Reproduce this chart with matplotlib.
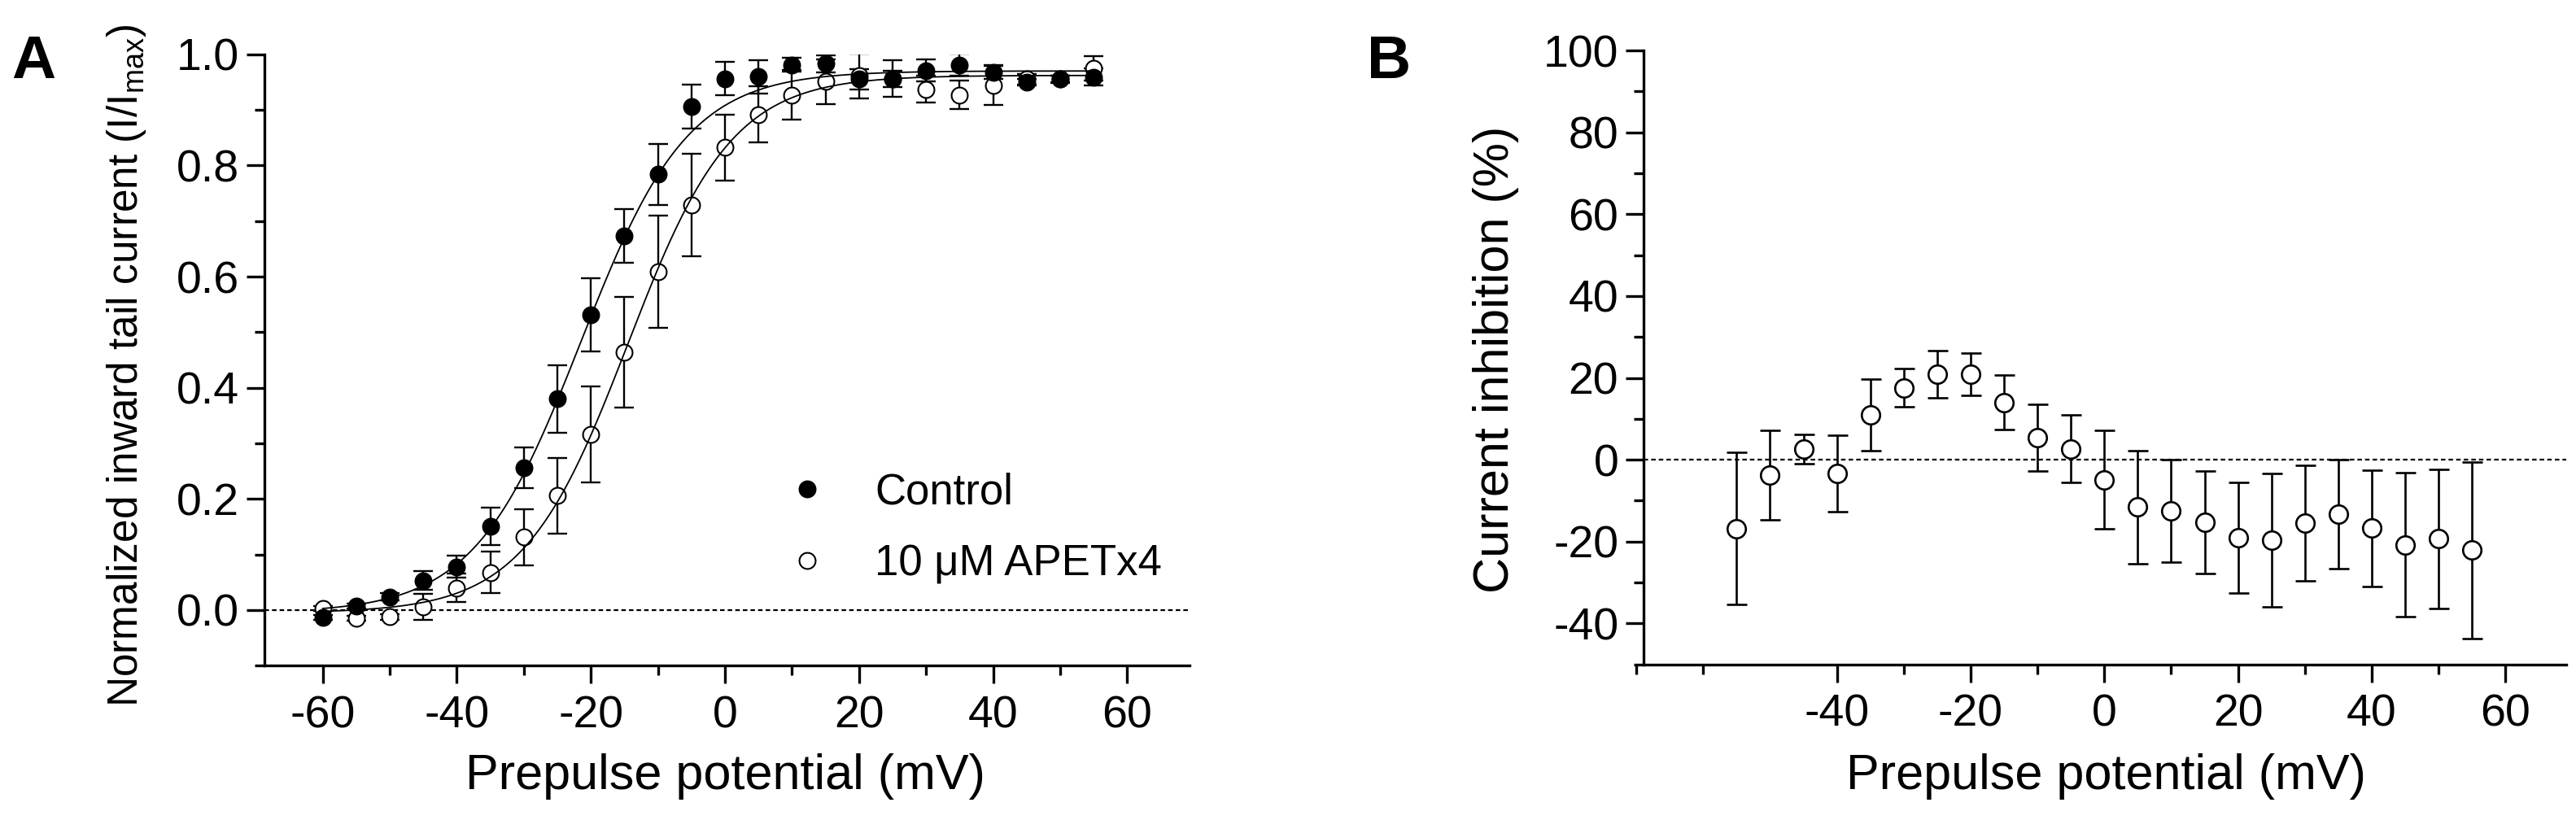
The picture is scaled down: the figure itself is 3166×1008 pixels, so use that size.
"""
Activation curves (panel A) and current inhibition (panel B)
redrawn from the published figure
"""

## Imports

import numpy as np
import matplotlib
matplotlib.use("Agg")
import matplotlib.pyplot as plt
from matplotlib.lines import Line2D
from matplotlib.ticker import FixedLocator, MultipleLocator, FormatStrFormatter

plt.rcParams['font.family'] = ['Liberation Sans', 'DejaVu Sans']
plt.rcParams['mathtext.default'] = 'regular'
plt.rcParams['axes.unicode_minus'] = False

## Data

# Panel A: normalized inward tail current vs prepulse potential
volt_a = [-60, -55, -50, -45, -40, -35, -30, -25, -20, -15, -10, -5,
          0, 5, 10, 15, 20, 25, 30, 35, 40, 45, 50, 55]
control_mean = [-0.013, 0.007, 0.024, 0.053, 0.078, 0.151, 0.256, 0.380,
                0.531, 0.673, 0.784, 0.906, 0.956, 0.960, 0.981, 0.983,
                0.955, 0.956, 0.971, 0.981, 0.968, 0.950, 0.956, 0.959]
control_sem = [0.004, 0.004, 0.006, 0.017, 0.020, 0.034, 0.037, 0.061,
               0.066, 0.048, 0.055, 0.040, 0.030, 0.030, 0.012, 0.015,
               0.018, 0.015, 0.020, 0.020, 0.012, 0.006, 0.006, 0.015]
apetx_mean = [0.003, -0.015, -0.012, 0.006, 0.040, 0.068, 0.131, 0.206,
              0.316, 0.464, 0.609, 0.729, 0.832, 0.892, 0.927, 0.951,
              0.961, 0.956, 0.937, 0.927, 0.944, 0.955, 0.955, 0.975]
apetx_sem = [0.004, 0.004, 0.005, 0.023, 0.026, 0.037, 0.050, 0.068,
             0.086, 0.100, 0.101, 0.092, 0.060, 0.050, 0.045, 0.040,
             0.040, 0.033, 0.024, 0.026, 0.035, 0.010, 0.006, 0.022]

# Boltzmann fits: bottom, top, V1/2 (mV), slope (mV)
fit_control = (-0.005, 0.970, -21.5, 8.0)
fit_apetx = (-0.005, 0.962, -14.5, 7.8)
fit_range = (-60, 55)

legend_labels = ['Control', '10 μM APETx4']

# Panel B: current inhibition vs prepulse potential
volt_b = [-55, -50, -45, -40, -35, -30, -25, -20, -15, -10, -5, 0,
          5, 10, 15, 20, 25, 30, 35, 40, 45, 50, 55]
inhib_mean = [-16.8, -3.7, 2.6, -3.3, 11.0, 17.6, 20.9, 20.9, 14.0, 5.4,
              2.7, -4.9, -11.6, -12.5, -15.3, -19.1, -19.6, -15.4, -13.3,
              -16.7, -20.8, -19.3, -22.1]
inhib_sem = [18.6, 10.9, 3.6, 9.3, 8.8, 4.7, 5.8, 5.2, 6.6, 8.1, 8.2, 12.0,
             13.9, 12.5, 12.5, 13.5, 16.3, 14.1, 13.3, 14.2, 17.6, 17.0, 21.6]

xticks_b_major = [-40, -20, 0, 20, 40, 60]
xticks_b_minor = [-70, -60, -30, -10, 10, 30, 50]


def boltzmann(v, bottom, top, v_half, slope):
    return bottom + (top - bottom) / (1. + np.exp((v_half - v) / slope))


def style_axes(ax):
    for side in ['top', 'right']:
        ax.spines[side].set_visible(False)
    for side in ['left', 'bottom']:
        ax.spines[side].set_linewidth(2.4)
    ax.tick_params(which='major', length=15.8, width=2.4, labelsize=40)
    ax.tick_params(which='minor', length=8.6, width=2.4)
    ax.tick_params(axis='y', which='both', pad=6.5)
    ax.tick_params(axis='x', which='both', pad=10)


dotted = (0, (2.5, 1.7))

fig = plt.figure(figsize=(31.66, 10.08), dpi=100)

## Panel A

ax_a = fig.add_axes([0.10265, 0.18819, 0.35913, 0.74563])
style_axes(ax_a)
ax_a.set_xlim(-68.7, 69.3)
ax_a.set_ylim(-0.1, 1.0)
ax_a.xaxis.set_major_locator(MultipleLocator(20))
ax_a.xaxis.set_minor_locator(MultipleLocator(10))
ax_a.yaxis.set_major_locator(MultipleLocator(0.2))
ax_a.yaxis.set_minor_locator(MultipleLocator(0.1))
ax_a.yaxis.set_major_formatter(FormatStrFormatter('%.1f'))

ax_a.axhline(0, color='black', lw=1.6, ls=dotted, zorder=1)

err_kw = dict(fmt='none', ecolor='black', elinewidth=1.7, capsize=8.7, capthick=1.7, zorder=2)
ax_a.errorbar(volt_a, apetx_mean, yerr=apetx_sem, **err_kw)
ax_a.errorbar(volt_a, control_mean, yerr=control_sem, **err_kw)
ax_a.plot(volt_a, apetx_mean, ls='none', marker='o', ms=14.3, mfc='white',
          mec='black', mew=1.5, zorder=3)
ax_a.plot(volt_a, control_mean, ls='none', marker='o', ms=14.3, mfc='black',
          mec='black', mew=1.5, zorder=3.5)

v_fit = np.linspace(fit_range[0], fit_range[1], 400)
ax_a.plot(v_fit, boltzmann(v_fit, *fit_control), color='black', lw=1.3, zorder=4)
ax_a.plot(v_fit, boltzmann(v_fit, *fit_apetx), color='black', lw=1.3, zorder=4)

handles = [Line2D([], [], ls='none', marker='o', ms=14.3, mfc='black', mec='black', mew=1.5),
           Line2D([], [], ls='none', marker='o', ms=14.3, mfc='white', mec='black', mew=1.5)]
ax_a.legend(handles, legend_labels, loc='center left', bbox_to_anchor=(9.0, 0.147),
            bbox_transform=ax_a.transData, frameon=False, fontsize=38,
            handlelength=1.0, handletextpad=1.08, labelspacing=0.71,
            borderpad=0, borderaxespad=0, numpoints=1)

ax_a.set_ylabel('Normalized inward tail current (I/I$_{max}$)', fontsize=37)
ax_a.yaxis.set_label_coords(-0.1258, 0.4913)
ax_a.set_xlabel('Prepulse potential (mV)', fontsize=44)
ax_a.xaxis.set_label_coords(0.498, -0.1433)

## Panel B

ax_b = fig.add_axes([0.63446, 0.18978, 0.36175, 0.74871])
style_axes(ax_b)
ax_b.set_xlim(-70.3, 69.1)
ax_b.set_ylim(-50, 100)
ax_b.spines['left'].set_position(('data', -68.9))
ax_b.spines['bottom'].set_bounds(-68.9, 69.1)
ax_b.xaxis.set_major_locator(FixedLocator(xticks_b_major))
ax_b.xaxis.set_minor_locator(FixedLocator(xticks_b_minor))
ax_b.yaxis.set_major_locator(MultipleLocator(20))
ax_b.yaxis.set_minor_locator(MultipleLocator(10))

ax_b.hlines(0, -68.9, 69.1, color='black', lw=1.6, ls=dotted, zorder=1)
ax_b.errorbar(volt_b, inhib_mean, yerr=inhib_sem, fmt='none', ecolor='black',
              elinewidth=1.9, capsize=9.0, capthick=1.9, zorder=2)
ax_b.plot(volt_b, inhib_mean, ls='none', marker='o', ms=16.2, mfc='white',
          mec='black', mew=1.9, zorder=3)

ax_b.set_ylabel('Current inhibition (%)', fontsize=44)
ax_b.yaxis.set_label_coords(-0.1237, 0.4965)
ax_b.set_xlabel('Prepulse potential (mV)', fontsize=44)
ax_b.xaxis.set_label_coords(0.506, -0.1448)

## Panel letters

fig.text(0.0045, 1 - 96. / 1008, 'A', fontsize=54, fontweight='bold', va='baseline')
fig.text(0.5306, 1 - 96. / 1008, 'B', fontsize=54, fontweight='bold', va='baseline')

fig.savefig('out.png', dpi=100)
